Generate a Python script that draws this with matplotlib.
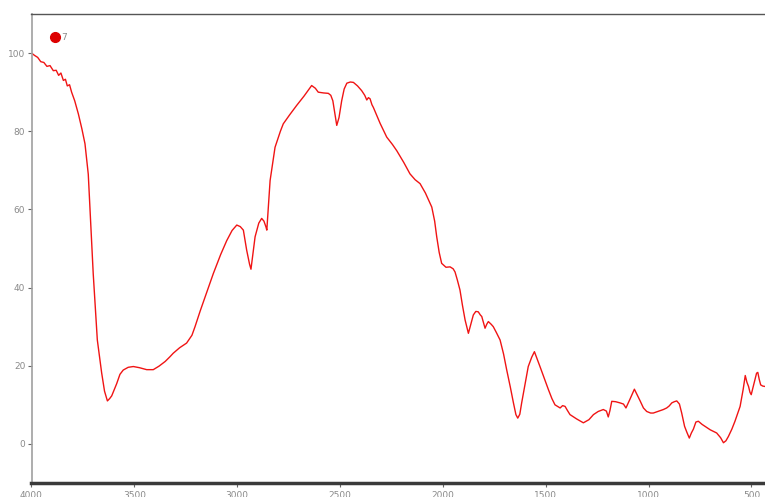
import matplotlib
matplotlib.use("Agg")
import matplotlib.pyplot as plt
from matplotlib.lines import Line2D

# IR spectrum: wavenumber (cm-1) vs transmittance (%)
wavenumber = [
    4000, 3985, 3970, 3955, 3940, 3925, 3910, 3894, 3880, 3868, 3857, 3845,
    3835, 3826, 3815, 3805, 3790, 3772, 3755, 3740, 3724, 3716, 3700, 3680,
    3659, 3645, 3631, 3620, 3610, 3586, 3570, 3554, 3530, 3505, 3475, 3440,
    3408, 3380, 3350, 3327, 3311, 3280, 3246, 3220, 3205, 3180, 3150, 3116,
    3080, 3051, 3025, 3002, 2985, 2970, 2954, 2940, 2933, 2925, 2913, 2895,
    2881, 2870, 2860, 2856, 2848, 2840, 2816, 2790, 2776, 2745, 2711, 2675,
    2638, 2620, 2606, 2580, 2557, 2545, 2535, 2525, 2516, 2505, 2492, 2480,
    2467, 2450, 2435, 2415, 2395, 2380, 2370, 2362, 2354, 2345, 2338, 2305,
    2273, 2245, 2224, 2190, 2160, 2135, 2111, 2085, 2062, 2054, 2040, 2030,
    2018, 2006, 1985, 1965, 1950, 1941, 1930, 1917, 1905, 1892, 1876, 1865,
    1852, 1840, 1828, 1818, 1811, 1800, 1795, 1787, 1779, 1765, 1755, 1740,
    1722, 1705, 1690, 1672, 1657, 1645, 1636, 1626, 1617, 1600, 1585, 1568,
    1555, 1540, 1528, 1505, 1487, 1470, 1455, 1442, 1430, 1418, 1406, 1395,
    1382, 1350, 1317, 1290, 1268, 1245, 1220, 1205, 1196, 1188, 1179, 1160,
    1139, 1122, 1110, 1090, 1069, 1055, 1041, 1025, 1009, 990, 977, 950,
    928, 912, 900, 887, 875, 863, 850, 839, 825, 814, 802, 792, 782, 770,
    758, 740, 726, 712, 700, 685, 669, 650, 636, 624, 612, 595, 580, 568,
    555, 540, 530, 522, 514, 507, 501, 492, 482, 475, 469, 462, 455, 445, 434,
]
transmittance = [
    100.0, 99.4, 98.9, 97.8, 97.6, 96.6, 96.8, 95.5, 95.6, 94.3, 94.9, 93.0,
    93.3, 91.6, 91.9, 90.0, 87.8, 84.4, 80.6, 76.8, 69.0, 60.6, 43.6, 26.6,
    18.2, 13.5, 11.0, 11.6, 12.3, 15.4, 17.8, 18.9, 19.6, 19.8, 19.5, 19.0,
    19.0, 19.9, 21.1, 22.3, 23.2, 24.6, 25.8, 27.8, 30.0, 34.0, 38.5, 43.6,
    48.5, 52.0, 54.6, 56.0, 55.6, 54.7, 49.6, 46.0, 44.7, 48.0, 53.0, 56.5,
    57.7, 57.0, 55.5, 54.7, 61.0, 67.4, 75.9, 80.0, 81.9, 84.2, 86.6, 89.0,
    91.7, 91.0, 90.0, 89.8, 89.7, 89.2, 87.8, 84.5, 81.5, 83.5, 87.8, 90.8,
    92.3, 92.6, 92.5, 91.6, 90.4, 89.2, 88.0, 88.6, 88.3, 86.8, 86.1, 82.0,
    78.5, 76.6, 75.0, 72.0, 69.1, 67.6, 66.6, 64.2, 61.5, 60.6, 57.0, 53.0,
    49.0, 46.2, 45.2, 45.3, 44.8, 44.0, 42.0, 39.4, 35.5, 31.7, 28.3, 30.5,
    33.0, 33.9, 33.8, 33.0, 32.6, 30.5, 29.6, 30.6, 31.3, 30.6, 30.0, 28.5,
    26.6, 23.0, 19.0, 14.5, 10.5, 7.5, 6.6, 7.6, 10.5, 15.5, 19.8, 22.2,
    23.6, 21.5, 19.8, 16.5, 13.9, 11.6, 10.0, 9.6, 9.2, 9.8, 9.6, 8.6,
    7.5, 6.4, 5.4, 6.2, 7.5, 8.3, 8.8, 8.4, 6.9, 8.5, 10.9, 10.8,
    10.5, 10.2, 9.2, 11.5, 14.0, 12.5, 11.0, 9.2, 8.3, 7.9, 7.9, 8.4,
    8.8, 9.2, 9.7, 10.5, 10.8, 11.0, 10.2, 7.9, 4.5, 3.0, 1.5, 2.8, 3.8, 5.6,
    5.8, 5.0, 4.5, 4.0, 3.6, 3.2, 2.8, 1.6, 0.3, 0.8, 1.9, 3.8, 5.8, 7.6,
    9.6, 14.0, 17.5, 15.8, 14.7, 13.2, 12.6, 14.5, 16.5, 18.1, 18.3, 16.5, 15.1,
    14.8, 14.7,
]
series_label = "7"
x_ticks = [4000, 3500, 3000, 2500, 2000, 1500, 1000, 500]
y_ticks = [0, 20, 40, 60, 80, 100]

fig = plt.figure(figsize=(7.65, 4.97), dpi=100)
ax = fig.add_axes([31.5 / 765, 1 - 483 / 497, 1 - 31.5 / 765, (483 - 14) / 497])

line_color = "#f01414"
ax.plot(wavenumber, transmittance, color=line_color, lw=1.0, solid_joinstyle="round")

ax.set_xlim(4000, 434)
ax.set_ylim(-10, 110)
ax.set_xticks(x_ticks)
ax.set_yticks(y_ticks)

label_color = "#8a8a8a"
ax.tick_params(axis="both", labelsize=6.5, labelcolor=label_color,
               color="#666666", length=3, width=0.8, pad=1.5)
ax.tick_params(axis="x", pad=3)

ax.spines["right"].set_visible(False)
ax.spines["top"].set_color("#555555")
ax.spines["top"].set_linewidth(1.0)
ax.spines["left"].set_color("#a0a0a0")
ax.spines["left"].set_linewidth(1.2)
ax.spines["bottom"].set_color("#3a3a3a")
ax.spines["bottom"].set_linewidth(2.5)

handle = Line2D([], [], linestyle="none", marker="o", markersize=7,
                markerfacecolor="#dd0000", markeredgecolor="#dd0000")
leg = ax.legend([handle], [series_label], loc="upper left",
                bbox_to_anchor=(0.017, 0.972), frameon=False,
                fontsize=6.5, handletextpad=0.2, borderpad=0.2,
                handlelength=1.0)
for t in leg.get_texts():
    t.set_color(label_color)

fig.savefig("out.png", dpi=100)
